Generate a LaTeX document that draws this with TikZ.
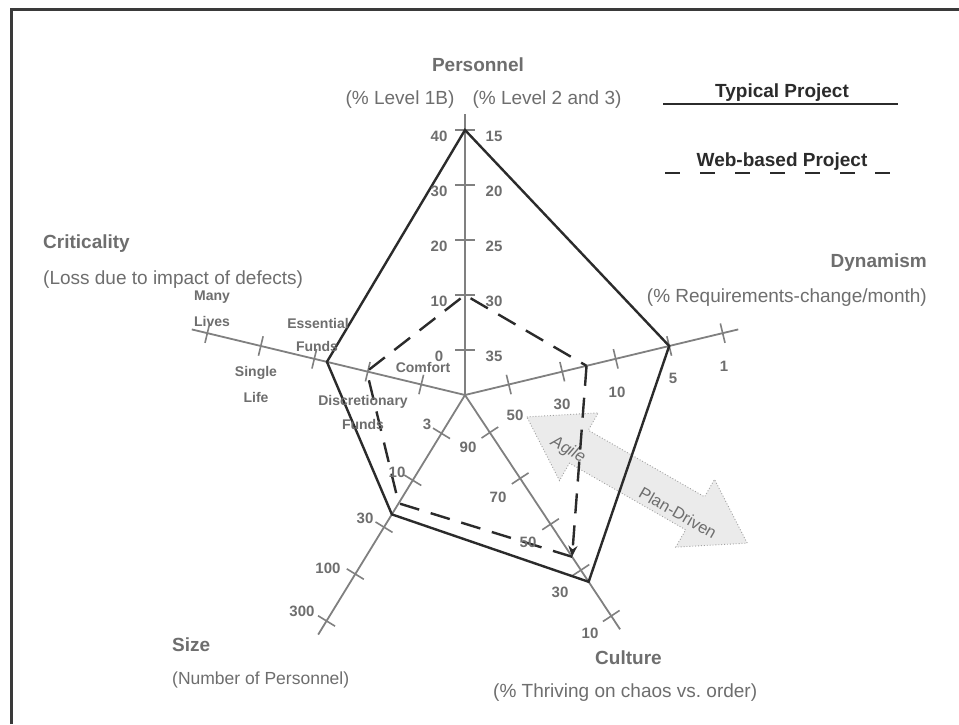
\documentclass[tikz,border=0pt]{standalone}
\usepackage{fontspec}
\setmainfont{Liberation Sans}
\usetikzlibrary{calc,arrows.meta}
\definecolor{axisgray}{HTML}{808080}
\definecolor{labgray}{HTML}{6E6E6E}
\definecolor{polyc}{HTML}{2B2B2B}
\definecolor{framec}{HTML}{3A3A3A}
\definecolor{arrfill}{HTML}{EBEBEB}
\definecolor{arrline}{HTML}{A0A0A0}
\begin{document}
\begin{tikzpicture}[x=1pt,y=-1pt,
  axisline/.style={axisgray, line width=1.8pt},
  tickmark/.style={axisgray, line width=1.6pt},
  typical/.style={polyc, line width=2.4pt, line join=miter},
  webpoly/.style={polyc, line width=2.4pt, dash pattern=on 20pt off 12pt},
  headlab/.style={labgray, font=\fontsize{19}{22}\selectfont\bfseries, inner sep=0pt},
  sublab/.style={labgray, font=\fontsize{19}{22}\selectfont, inner sep=0pt},
  ticklab/.style={labgray, font=\fontsize{15}{17}\selectfont\bfseries, inner sep=0pt},
  critlab/.style={labgray, font=\fontsize{14}{16}\selectfont\bfseries, inner sep=0pt},
  legtext/.style={polyc, font=\fontsize{19}{22}\selectfont\bfseries, inner sep=0pt},
  arrlab/.style={labgray, font=\fontsize{16.5}{18}\selectfont, inner sep=0pt},
]
\useasboundingbox (0,0) rectangle (959,724);
\fill[white] (0,0) rectangle (959,724);
% frame
\coordinate (fbl) at (11,724);
\coordinate (ftl) at (11,9);
\coordinate (ftr) at (959,9);
\draw[framec, line width=3pt] (fbl) -- (ftl) -- (ftr);

% centre and axes
\coordinate (c) at (465,395);
\foreach \nm/\ang in {P/90, D/13.5, Cr/166.5, S/238.5, Cu/303.5} {
  \coordinate (end\nm) at ($(c)+(\ang:281pt)$);
  \draw[axisline] (c) -- (end\nm);
  \foreach \r [count=\k] in {45,100,155,210,265} {
    \coordinate (t\nm\k) at ($(c)+(\ang:\r pt)$);
    \draw[tickmark] ($(t\nm\k)+(\ang+90:10pt)$) -- ($(t\nm\k)+(\ang-90:10pt)$);
  }
}

% Agile / Plan-Driven double arrow
\begin{scope}[shift={(637,480)}, rotate=-29.8]
  \filldraw[fill=arrfill, draw=arrline, line width=0.9pt, dotted]
    (-127,0) -- (-67,-39) -- (-67,-19) -- (67,-19) -- (67,-39) -- (127,0)
    -- (67,39) -- (67,19) -- (-67,19) -- (-67,39) -- cycle;
\end{scope}
\node[arrlab, rotate=-29.8, font=\fontsize{16.5}{18}\selectfont\itshape] (agile) at (568,450) {Agile};
\node[arrlab, rotate=-29.8] (plandr) at (678,513) {Plan-Driven};

% typical project polygon
\coordinate (tyP) at ($(c)+(90:265pt)$);
\coordinate (tyD) at ($(c)+(13.5:210pt)$);
\coordinate (tyCu) at ($(c)+(303.5:224pt)$);
\coordinate (tyS) at ($(c)+(238.5:140pt)$);
\coordinate (tyCr) at ($(c)+(166.5:142pt)$);
\draw[typical] (tyP) -- (tyD) -- (tyCu) -- (tyS) -- (tyCr) -- cycle;

% web-based project polygon
\coordinate (wbP) at ($(c)+(90:100pt)$);
\coordinate (wbD) at ($(c)+(13.5:125pt)$);
\coordinate (wbCu) at ($(c)+(303.5:194pt)$);
\coordinate (wbS) at ($(c)+(238.5:127pt)$);
\coordinate (wbCr) at ($(c)+(166.5:101pt)$);
\draw[webpoly, -{Stealth[length=11pt,width=9pt]}] (wbD) -- (wbCu);
\draw[webpoly] (wbCu) -- (wbS) -- (wbCr) -- (wbP) -- (wbD);

% personnel labels
\node[headlab] (hP) at (478,65) {Personnel};
\node[sublab] (sP1) at (400,100) {(\% Level 1B)};
\node[sublab] (sP2) at (547,100) {(\% Level 2 and 3)};
\foreach \l/\rr/\y [count=\i] in {0/35/356, 10/30/301, 20/25/246, 30/20/191, 40/15/136} {
  \node[ticklab] (pl\i) at (439,\y) {\l};
  \node[ticklab] (pr\i) at (494,\y) {\rr};
}

% dynamism labels
\node[headlab, anchor=east] (hD) at (927,263) {Dynamism};
\node[sublab, anchor=east] (sD) at (927,298) {(\% Requirements-change/month)};
\foreach \l/\x/\y [count=\i] in {50/515/415, 30/562/404, 10/617/392, 5/673/378, 1/724/366} {
  \node[ticklab] (dl\i) at (\x,\y) {\l};
}

% criticality labels
\node[headlab, anchor=west] (hCr) at (43,244) {Criticality};
\node[sublab, anchor=west] (sCr) at (43,280) {(Loss due to impact of defects)};
\node[critlab] (crA1) at (212,297) {Many};
\node[critlab] (crA2) at (212,321) {Lives};
\node[critlab] (crB1) at (256,373) {Single};
\node[critlab] (crB2) at (256,397) {Life};
\node[critlab] (crC1) at (318,323) {Essential};
\node[critlab] (crC2) at (317,346) {Funds};
\node[critlab] (crD1) at (363,402) {Discretionary};
\node[critlab] (crD2) at (363,424) {Funds};
\node[critlab] (crE) at (423,367) {Comfort};

% size labels
\node[headlab, anchor=west] (hS) at (172,645) {Size};
\node[sublab, anchor=west, font=\fontsize{17.5}{20}\selectfont] (sS) at (172,680) {(Number of Personnel)};
\foreach \l/\x/\y [count=\i] in {3/427/424, 10/397/472, 30/365/518, 100/328/568, 300/302/611} {
  \node[ticklab] (sl\i) at (\x,\y) {\l};
}

% culture labels
\node[headlab, anchor=west] (hCu) at (595,658) {Culture};
\node[sublab, anchor=west] (sCu) at (493,693) {(\% Thriving on chaos vs.\ order)};
\foreach \l/\x/\y [count=\i] in {90/468/447, 70/498/497, 50/528/542, 30/560/592, 10/590/633} {
  \node[ticklab] (cl\i) at (\x,\y) {\l};
}

% legend
\node[legtext] (legT) at (782,93) {Typical Project};
\coordinate (legTa) at (663,104);
\coordinate (legTb) at (898,104);
\draw[polyc, line width=2.6pt] (legTa) -- (legTb);
\node[legtext] (legW) at (782,162) {Web-based Project};
\coordinate (legWa) at (665,173);
\coordinate (legWb) at (898,173);
\draw[polyc, line width=2.6pt, dash pattern=on 15pt off 20pt] (legWa) -- (legWb);
\end{tikzpicture}
\end{document}
